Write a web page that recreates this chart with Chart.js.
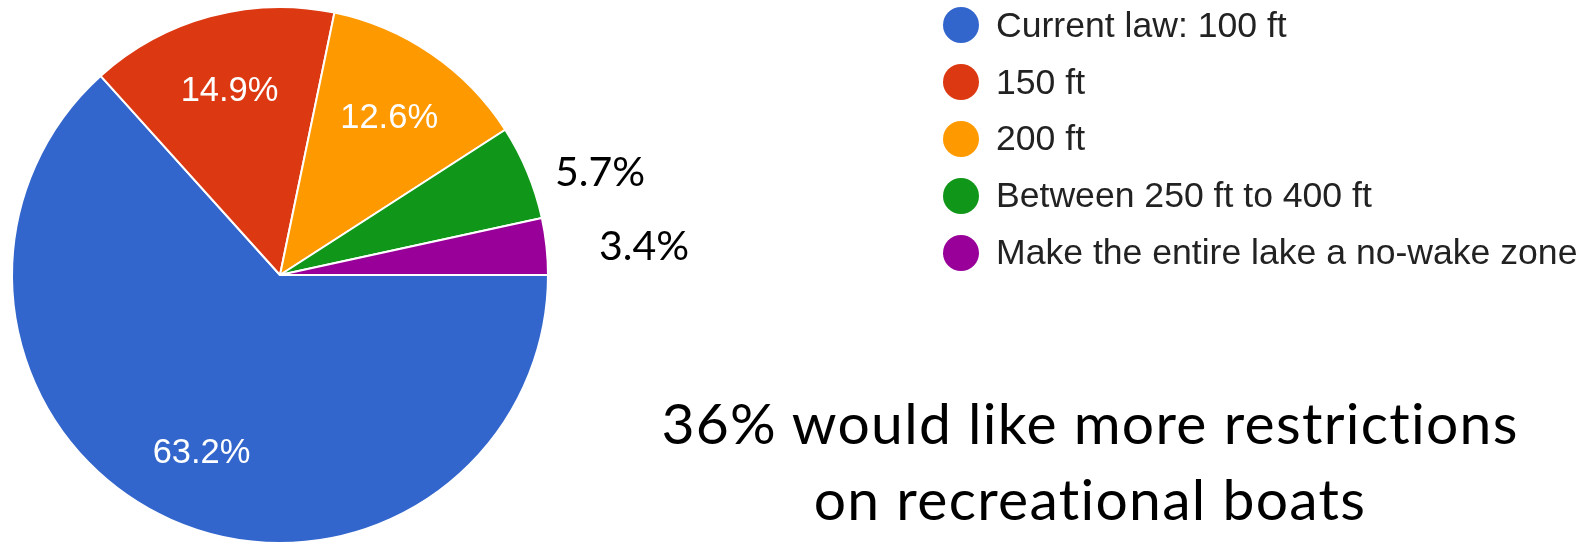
<!DOCTYPE html>
<html lang="en">
<head>
  <meta charset="UTF-8">
  <title>Preferred no-wake distance</title>
  <style>
    html, body {
      margin: 0;
      padding: 0;
      background: #ffffff;
    }
    body {
      width: 1585px;
      height: 544px;
      position: relative;
      overflow: hidden;
      font-family: "Liberation Sans", Arial, sans-serif;
    }
    .pie-box {
      position: absolute;
      left: 0;
      top: 0;
      width: 1585px;
      height: 544px;
    }
    .legend {
      position: absolute;
      left: 943px;
      top: -3px;
      margin: 0;
      padding: 0;
      list-style: none;
    }
    .legend li {
      display: flex;
      align-items: center;
      height: 56.8px;
      font-size: 35.6px;
      color: #222222;
      white-space: nowrap;
    }
    .legend .dot {
      width: 36px;
      height: 36px;
      border-radius: 50%;
      margin-right: 17px;
      flex: none;
    }
    .note {
      position: absolute;
      font-family: Lato, "Open Sans", sans-serif;
      font-size: 41px;
      line-height: 50px;
      color: #000000;
      white-space: nowrap;
    }
    .caption {
      position: absolute;
      left: 590px;
      width: 1000px;
      top: 384px;
      text-align: center;
      font-family: Lato, "Open Sans", sans-serif;
      font-size: 57px;
      line-height: 76px;
      letter-spacing: 1.3px;
      color: #000000;
    }
  </style>
</head>
<body>

  <div class="pie-box">
    <canvas id="pieChart"></canvas>
  </div>
  <ul class="legend" id="legend"></ul>
  <div id="notes"></div>
  <div class="caption" id="caption"></div>

  <script src="https://cdn.jsdelivr.net/npm/chart.js"></script>
  <script>
    // answers, in the order the slices run clockwise from 3 o'clock
    const categories = [
      'Current law: 100 ft',
      '150 ft',
      '200 ft',
      'Between 250 ft to 400 ft',
      'Make the entire lake a no-wake zone'
    ];
    const shares = [63.2, 14.9, 12.6, 5.7, 3.4];
    const sliceColors = ['#3366cc', '#dc3912', '#ff9900', '#109618', '#990099'];
    const captionLines = ['36% would like more restrictions', 'on recreational boats'];

    // small slices get their label outside the pie (left edge, baseline)
    const outsideSpots = [null, null, null, { left: 555, base: 187 }, { left: 599, base: 261 }];

    const pct = v => v.toFixed(1) + '%';

    // legend
    const legend = document.getElementById('legend');
    categories.forEach((name, i) => {
      const li = document.createElement('li');
      const dot = document.createElement('span');
      dot.className = 'dot';
      dot.style.background = sliceColors[i];
      li.appendChild(dot);
      li.appendChild(document.createTextNode(name));
      legend.appendChild(li);
    });

    // outside labels
    const notes = document.getElementById('notes');
    shares.forEach((v, i) => {
      const spot = outsideSpots[i];
      if (!spot) return;
      const d = document.createElement('div');
      d.className = 'note';
      d.textContent = pct(v);
      d.style.left = spot.left + 'px';
      d.style.top = (spot.base - 41) + 'px';
      notes.appendChild(d);
    });

    document.getElementById('caption').innerHTML = captionLines.join('<br>');

    // white percentage labels inside the big slices
    const sliceLabels = {
      id: 'sliceLabels',
      afterDatasetsDraw(chart) {
        const ctx = chart.ctx;
        const arcs = chart.getDatasetMeta(0).data;
        ctx.save();
        ctx.font = '34.5px "Liberation Sans", Arial, sans-serif';
        ctx.fillStyle = '#ffffff';
        ctx.textAlign = 'center';
        ctx.textBaseline = 'alphabetic';
        arcs.forEach((arc, i) => {
          if (shares[i] < 10) return;
          const p = arc.getProps(['x', 'y', 'startAngle', 'endAngle', 'outerRadius']);
          const mid = (p.startAngle + p.endAngle) / 2;
          const r = p.outerRadius * 0.72;
          const x = p.x + Math.cos(mid) * r;
          const y = p.y + Math.sin(mid) * r;
          ctx.fillText(pct(shares[i]), x, y + 12);
        });
        ctx.restore();
      }
    };

    new Chart(document.getElementById('pieChart'), {
      type: 'pie',
      data: {
        labels: categories,
        datasets: [{
          data: shares,
          backgroundColor: sliceColors,
          borderColor: '#ffffff',
          borderWidth: 2,
          hoverOffset: 0
        }]
      },
      options: {
        responsive: true,
        maintainAspectRatio: false,
        animation: false,
        rotation: 90,
        radius: 268,
        layout: {
          padding: { left: 13, top: 8, right: 1038, bottom: 2 }
        },
        plugins: {
          legend: { display: false },
          tooltip: { enabled: false }
        }
      },
      plugins: [sliceLabels]
    });
  </script>

</body>
</html>
